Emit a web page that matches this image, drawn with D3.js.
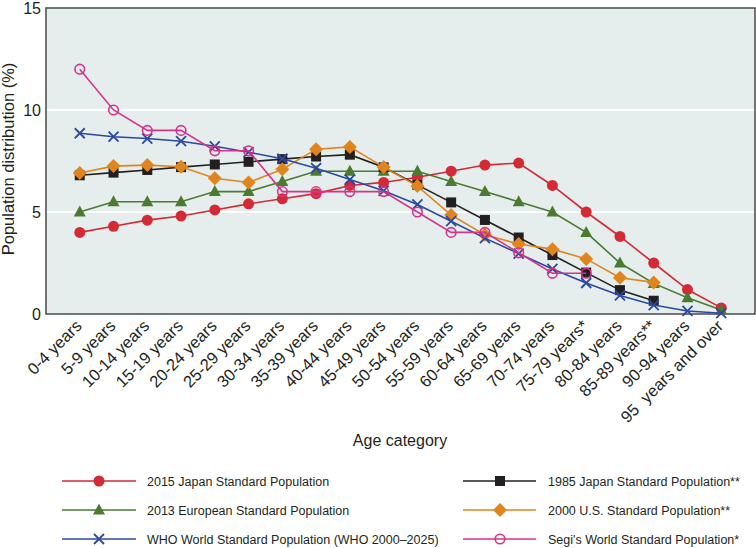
<!DOCTYPE html>
<html>
<head>
<meta charset="utf-8">
<script src="https://cdn.jsdelivr.net/npm/d3@7"></script>
<style>
  body { margin: 0; background: #fff; }
  svg { display: block; font-family: "Liberation Sans", Arial, sans-serif; }
</style>
</head>
<body>
<svg id="chart" width="756" height="548"></svg>
<script>
const categories = ["0-4 years", "5-9 years", "10-14 years", "15-19 years", "20-24 years",
    "25-29 years", "30-34 years", "35-39 years", "40-44 years", "45-49 years", "50-54 years",
    "55-59 years", "60-64 years", "65-69 years", "70-74 years", "75-79 years*", "80-84 years",
    "85-89 years**", "90-94 years", "95  years and over"];

const japan2015 = [4.0, 4.3, 4.6, 4.8, 5.1, 5.4, 5.65, 5.9, 6.3, 6.45, 6.7, 7.0, 7.3, 7.4, 6.3, 5.0, 3.8, 2.5, 1.2, 0.3];
const europe2013 = [5.0, 5.5, 5.5, 5.5, 6.0, 6.0, 6.5, 7.0, 7.0, 7.0, 7.0, 6.5, 6.0, 5.5, 5.0, 4.0, 2.5, 1.5, 0.8, 0.2];
const who = [8.86, 8.69, 8.60, 8.47, 8.22, 7.93, 7.61, 7.15, 6.59, 6.04, 5.37, 4.55, 3.72, 2.96, 2.21, 1.52, 0.91, 0.44, 0.15, 0.04];
const japan1985 = [6.80, 6.93, 7.06, 7.20, 7.33, 7.46, 7.59, 7.72, 7.81, 7.19, 6.33, 5.47, 4.61, 3.75, 2.89, 2.03, 1.17, 0.65];
const us2000 = [6.91, 7.25, 7.30, 7.22, 6.65, 6.45, 7.10, 8.08, 8.19, 7.20, 6.27, 4.85, 3.88, 3.43, 3.18, 2.70, 1.78, 1.55];
const segi = [12, 10, 9, 9, 8, 8, 6, 6, 6, 6, 5, 4, 4, 3, 2, 2];

const yTicks = [0, 5, 10, 15];
const gridValues = [5, 10];

const seriesList = [
    { name: "2015 Japan Standard Population", values: japan2015, color: "#d42a35", marker: "circle", col: 0, row: 0 },
    { name: "2013 European Standard Population", values: europe2013, color: "#4b7a31", marker: "triangle", col: 0, row: 1 },
    { name: "1985 Japan Standard Population**", values: japan1985, color: "#231f20", marker: "square", col: 1, row: 0 },
    { name: "2000 U.S. Standard Population**", values: us2000, color: "#e0851e", marker: "diamond", col: 1, row: 1 },
    { name: "WHO World Standard Population (WHO 2000\u20132025)", values: who, color: "#2b48a0", marker: "cross", col: 0, row: 2 },
    { name: "Segi's World Standard Population*", values: segi, color: "#d6338a", marker: "open", col: 1, row: 2 }
];

const svg = d3.select("#chart");
const plot = { left: 46, top: 8, right: 755, bottom: 314 };

const x = d3.scalePoint().domain(categories).range([plot.left, plot.right]).padding(1);
const y = d3.scaleLinear().domain([0, 15]).range([plot.bottom, plot.top]);

// background + grid
svg.append("rect")
    .attr("x", plot.left).attr("y", plot.top)
    .attr("width", plot.right - plot.left).attr("height", plot.bottom - plot.top)
    .attr("fill", "#e5eeed");

svg.append("g").selectAll("line")
    .data(gridValues)
    .enter().append("line")
    .attr("x1", plot.left).attr("x2", plot.right)
    .attr("y1", d => y(d)).attr("y2", d => y(d))
    .attr("stroke", "#fff").attr("stroke-width", 2);

svg.append("rect")
    .attr("x", plot.left).attr("y", plot.top)
    .attr("width", plot.right - plot.left).attr("height", plot.bottom - plot.top)
    .attr("fill", "none").attr("stroke", "#4a4a4a").attr("stroke-width", 1.5);

// y axis labels
svg.append("g").selectAll("text")
    .data(yTicks)
    .enter().append("text")
    .attr("x", 41).attr("y", d => y(d))
    .attr("dy", "0.36em")
    .attr("text-anchor", "end")
    .attr("font-size", "16px")
    .attr("fill", "#231f20")
    .text(d => d);

svg.append("text")
    .attr("transform", `translate(14, ${(plot.top + plot.bottom) / 2 - 2}) rotate(-90)`)
    .attr("text-anchor", "middle")
    .attr("font-size", "16.5px")
    .attr("fill", "#231f20")
    .text("Population distribution (%)");

// x axis labels
svg.append("g").selectAll("text")
    .data(categories)
    .enter().append("text")
    .attr("transform", d => `translate(${x(d) + 3}, ${plot.bottom + 13}) rotate(-45)`)
    .attr("text-anchor", "end")
    .attr("font-size", "16.5px")
    .attr("fill", "#231f20")
    .style("white-space", "pre")
    .text(d => d);

svg.append("text")
    .attr("x", 400).attr("y", 446)
    .attr("text-anchor", "middle")
    .attr("font-size", "16px")
    .attr("fill", "#231f20")
    .text("Age category");

function drawMarker(g, type, color) {
    if (type === "circle") {
        g.append("circle").attr("r", 5.5).attr("fill", color);
    } else if (type === "open") {
        g.append("circle").attr("r", 4.8).attr("fill", "none").attr("stroke", color).attr("stroke-width", 1.6);
    } else if (type === "square") {
        g.append("rect").attr("x", -5).attr("y", -5).attr("width", 10).attr("height", 10).attr("fill", color);
    } else if (type === "diamond") {
        g.append("path").attr("d", "M0,-7L7,0L0,7L-7,0Z").attr("fill", color);
    } else if (type === "triangle") {
        g.append("path").attr("d", "M0,-6.5L6,4.5L-6,4.5Z").attr("fill", color);
    } else if (type === "cross") {
        g.append("path").attr("d", "M-5,-5L5,5M-5,5L5,-5").attr("stroke", color).attr("stroke-width", 1.8).attr("fill", "none");
    }
}

const line = d3.line()
    .x((d, i) => x(categories[i]))
    .y(d => y(d));

seriesList.forEach(s => {
    const g = svg.append("g");
    g.append("path")
        .datum(s.values)
        .attr("d", line)
        .attr("fill", "none")
        .attr("stroke", s.color)
        .attr("stroke-width", 1.6);
    g.selectAll("g.pt")
        .data(s.values)
        .enter().append("g")
        .attr("class", "pt")
        .attr("transform", (d, i) => `translate(${x(categories[i])}, ${y(d)})`)
        .each(function () { drawMarker(d3.select(this), s.marker, s.color); });
});

// legend
const legendCols = [{ x1: 62, x2: 136, mx: 99, tx: 147 }, { x1: 463, x2: 536, mx: 500, tx: 548 }];
const legendRows = [481, 510, 539];

seriesList.forEach(s => {
    const c = legendCols[s.col];
    const ry = legendRows[s.row];
    const g = svg.append("g");
    g.append("line")
        .attr("x1", c.x1).attr("x2", c.x2)
        .attr("y1", ry).attr("y2", ry)
        .attr("stroke", s.color).attr("stroke-width", 1.6);
    drawMarker(g.append("g").attr("transform", `translate(${c.mx}, ${ry})`), s.marker, s.color);
    g.append("text")
        .attr("x", c.tx).attr("y", ry)
        .attr("dy", "0.36em")
        .attr("font-size", "12.5px")
        .attr("fill", "#231f20")
        .text(s.name);
});
</script>
</body>
</html>
